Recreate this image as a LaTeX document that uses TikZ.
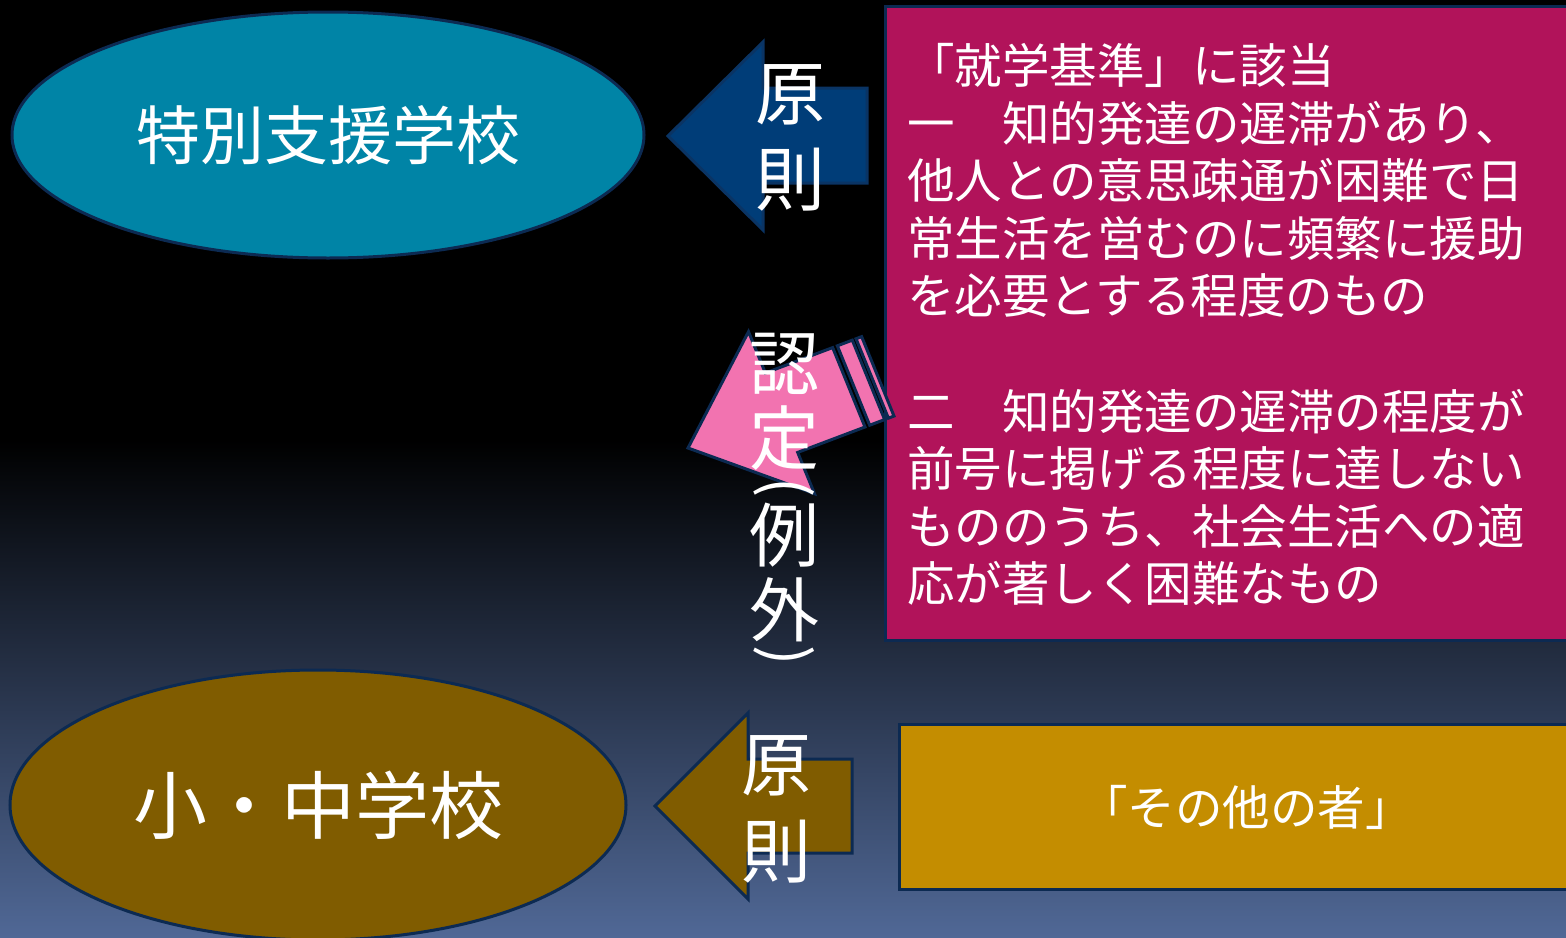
\documentclass[tikz,border=0pt]{standalone}
\usepackage{fontspec}
\setmainfont{Noto Sans CJK JP}
\usetikzlibrary{shapes.geometric}
\definecolor{cNavy}{RGB}{12,42,82}
\definecolor{cBgBot}{RGB}{80,104,150}
\definecolor{cTeal}{RGB}{0,132,166}
\definecolor{cBrown}{RGB}{128,92,0}
\definecolor{cMag}{RGB}{177,19,90}
\definecolor{cGold}{RGB}{196,141,0}
\definecolor{cBlue}{RGB}{0,61,120}
\definecolor{cBlueEdge}{RGB}{10,52,100}
\definecolor{cPinkA}{RGB}{242,115,176}
\newcommand{\fsz}[1]{\fontsize{#1}{#1}\selectfont}
\begin{document}
\begin{tikzpicture}[x=1pt,y=-1pt,
  outl/.style={draw=cNavy, line width=3pt, line join=miter},
  wt/.style={text=white, inner sep=0pt, outer sep=0pt},
  bodytxt/.style={wt, anchor=base west, font=\fsz{47.5}},
  vtxt/.style={wt, font=\fsz{70}},
  ptxt/.style={wt, font=\fsz{60}, rotate=-90}]
\useasboundingbox (0,0) rectangle (1566,937);
\fill[black] (0,0) rectangle (1566,442);
\shade[top color=black, bottom color=cBgBot] (0,440) rectangle (1566,937);

% ellipses
\node[ellipse, outl, fill=cTeal, minimum width=632, minimum height=246, inner sep=0pt, text=white, font=\fsz{64}] (e1) at (328,135) {特別支援学校};
\node[ellipse, outl, fill=cBrown, minimum width=616, minimum height=270, inner sep=0pt, text=white, font=\fsz{74}] (e2) at (318,805) {小・中学校};

% boxes
\node[outl, fill=cMag, minimum width=706, minimum height=634, anchor=north west] (pbox) at (884,5) {};
\node[outl, fill=cGold, minimum width=694, minimum height=165, anchor=north west, text=white, font=\fsz{47.5}] (gbox) at (898,723) {「その他の者」};

% blue arrow
\draw[line width=3pt, draw=cBlueEdge, fill=cBlue] (668,136) -- (763,42) -- (763,88) -- (867,88) -- (867,183) -- (763,183) -- (763,230) -- cycle;
\node[vtxt] (g1) at (790,95) {原};
\node[vtxt] (s1) at (790,180) {則};

% brown arrow
\draw[outl, fill=cBrown] (655,806) -- (748,713) -- (748,759) -- (852,759) -- (852,853) -- (748,853) -- (748,899) -- cycle;
\node[vtxt] (g2) at (776,766) {原};
\node[vtxt] (s2) at (776,852) {則};

% pink striped arrow
\begin{scope}[shift={(688,448)}, x={(0.935,-0.353)}, y={(0.353,0.935)}]
  \draw[outl, fill=cPinkA] (0,0) -- (100,-100) -- (100,-49) -- (172,-49) -- (172,49) -- (100,49) -- (100,100) -- cycle;
  \draw[outl, fill=cPinkA] (177,-49) -- (193,-49) -- (193,49) -- (177,49) -- cycle;
  \draw[outl, fill=cPinkA] (197,-49) -- (203,-49) -- (203,49) -- (197,49) -- cycle;
\end{scope}
\node[vtxt] (n1) at (784,364) {認};
\node[vtxt] (n2) at (784,438) {定};
\node[ptxt] (n3) at (784,488) {(};
\node[vtxt] (n4) at (784,535) {例};
\node[vtxt] (n5) at (784,610) {外};
\node[ptxt] (n6) at (784,656) {)};

% text in magenta box
\node[bodytxt] (l1) at (907,83) {「就学基準」に該当};
\node[bodytxt] (l2) at (907,141) {一　知的発達の遅滞があり、};
\node[bodytxt] (l3) at (907,198) {他人との意思疎通が困難で日};
\node[bodytxt] (l4) at (907,256) {常生活を営むのに頻繁に援助};
\node[bodytxt] (l5) at (907,313) {を必要とする程度のもの};
\node[bodytxt] (l6) at (907,429) {二　知的発達の遅滞の程度が};
\node[bodytxt] (l7) at (907,486) {前号に掲げる程度に達しない};
\node[bodytxt] (l8) at (907,544) {もののうち、社会生活への適};
\node[bodytxt] (l9) at (907,601) {応が著しく困難なもの};
\end{tikzpicture}
\end{document}
